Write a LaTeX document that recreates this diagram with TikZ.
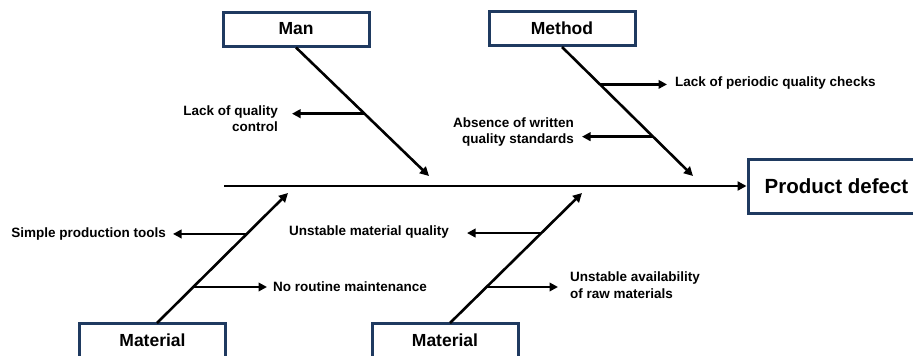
\documentclass[tikz,border=0pt]{standalone}
\usepackage{fontspec}
\setmainfont{Liberation Sans}
\usetikzlibrary{arrows.meta,calc}
\definecolor{navy}{HTML}{1F3A60}
\begin{document}
\begin{tikzpicture}[x=1pt,y=-1pt,
  causebox/.style={draw=navy,line width=3pt,fill=white,minimum width=146pt,minimum height=34pt,inner sep=0pt,font=\fontsize{17.5}{20}\selectfont\bfseries},
  effectbox/.style={draw=navy,line width=3pt,fill=white,minimum width=177pt,minimum height=54pt,inner sep=0pt,font=\fontsize{20.5}{24}\selectfont\bfseries},
  bone/.style={line width=2.6pt,-{Triangle[length=9pt,width=9pt]}},
  twig/.style={line width=2.4pt,-{Triangle[length=8.5pt,width=8.5pt]}},
  lbl/.style={inner sep=0pt,font=\fontsize{13.5}{16.5}\selectfont\bfseries}]
\useasboundingbox (0,0) rectangle (913,356);
% boxes
\node[causebox] (man) at (296,29) {Man};
\node[causebox] (method) at (562,28.5) {Method};
\node[causebox] (mat1) at (152.5,340) {Material};
\node[causebox] (mat2) at (445,340) {Material};
\node[effectbox] (effect) at (836.5,186) {Product defect};
% spine
\coordinate (spinestart) at (224,186);
\draw[line width=2.8pt,-{Triangle[length=9pt,width=9pt]}] (spinestart) -- (effect.west);
% bone end points
\coordinate (mantip) at (429,176);
\coordinate (methtip) at (693,176);
\coordinate (mat1s) at (157,323);
\coordinate (mat1tip) at (288,193);
\coordinate (mat2s) at (450,323);
\coordinate (mat2tip) at (582,193);
\draw[bone] (man.south) -- (mantip);
\draw[bone] (method.south) -- (methtip);
\draw[bone] (mat1s) -- (mat1tip);
\draw[bone] (mat2s) -- (mat2tip);
% labels
\node[lbl,anchor=east,align=right] (t1) at (278,118.5) {Lack of quality\\control};
\node[lbl,anchor=west] (t2) at (675,83) {Lack of periodic quality checks};
\node[lbl,anchor=east,align=right] (t3) at (574,132) {Absence of written\\quality standards};
\node[lbl,anchor=east] (t4) at (166,234) {Simple production tools};
\node[lbl,anchor=west] (t5) at (273,287) {No routine maintenance};
\node[lbl,anchor=west] (t6) at (289,232) {Unstable material quality};
\node[lbl,anchor=west,align=left] (t7) at (570,285) {Unstable availability\\of raw materials};
% twigs
\coordinate (b1) at ($(man.south)!0.515!(mantip)$);
\coordinate (b1e) at (292,0);
\draw[twig] (b1) -- (b1e |- b1);
\coordinate (b2) at ($(method.south)!0.29!(methtip)$);
\coordinate (b2e) at (667,0);
\draw[twig] (b2) -- (b2e |- b2);
\coordinate (b3) at ($(method.south)!0.695!(methtip)$);
\coordinate (b3e) at (582,0);
\draw[twig] (b3) -- (b3e |- b3);
\coordinate (b4) at ($(mat1s)!0.685!(mat1tip)$);
\coordinate (b4e) at (173,0);
\draw[twig] (b4) -- (b4e |- b4);
\coordinate (b5) at ($(mat1s)!0.277!(mat1tip)$);
\coordinate (b5e) at (267,0);
\draw[twig] (b5) -- (b5e |- b5);
\coordinate (b6) at ($(mat2s)!0.692!(mat2tip)$);
\coordinate (b6e) at (467,0);
\draw[twig] (b6) -- (b6e |- b6);
\coordinate (b7) at ($(mat2s)!0.277!(mat2tip)$);
\coordinate (b7e) at (558,0);
\draw[twig] (b7) -- (b7e |- b7);
\end{tikzpicture}
\end{document}
